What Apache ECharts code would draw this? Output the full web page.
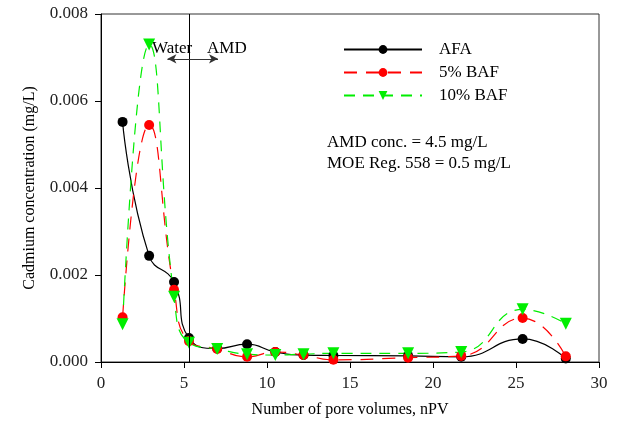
<!DOCTYPE html>
<html>
<head>
<meta charset="utf-8">
<script src="https://cdn.jsdelivr.net/npm/echarts@6/dist/echarts.min.js"></script>
<style>
  html, body { margin: 0; padding: 0; background: #fff; }
  #chart { width: 621px; height: 433px; }
</style>
</head>
<body>
<div id="chart"></div>
<script>
// pore volumes (x) shared by all three series
var poreVolumes = [1.3, 2.9, 4.4, 5.3, 7.0, 8.8, 10.5, 12.2, 14.0, 18.5, 21.7, 25.4, 28.0];

// cadmium concentration, mg/L
var afa    = [0.00552, 0.00244, 0.00184, 0.00055, 0.00031, 0.00041, 0.00023, 0.00016, 0.00015, 0.00014, 0.00012, 0.00053, 0.00008];
var baf5   = [0.00103, 0.00545, 0.00166, 0.00048, 0.00030, 0.00012, 0.00023, 0.00016, 0.00005, 0.00010, 0.00014, 0.00101, 0.00013];
var baf10  = [0.00087, 0.00730, 0.00150, 0.00044, 0.00030, 0.00018, 0.00016, 0.00018, 0.00020, 0.00020, 0.00023, 0.00121, 0.00088];

var seriesNames = ['AFA', '5% BAF', '10% BAF'];
var yTicks = [0, 0.002, 0.004, 0.006, 0.008];
var xTicks = [0, 5, 10, 15, 20, 25, 30];

// water -> AMD switch
var switchPV = 5.3;
var arrowFrom = 4.0, arrowTo = 7.05, arrowY = 0.00697;

var FONT = '"Liberation Serif", "DejaVu Serif", serif';

function pairs(xs, ys) {
	var out = [];
	for (var i = 0; i < xs.length; i++) out.push([xs[i], ys[i]]);
	return out;
}

var chart = echarts.init(document.getElementById('chart'));

var option = {
	backgroundColor: '#fff',
	animation: false,
	textStyle: { fontFamily: FONT, color: '#000' },
	grid: {
		left: 101, right: 22, top: 14, bottom: 71,
		show: true, borderColor: '#333', borderWidth: 1
	},
	legend: {
		orient: 'vertical',
		left: 338, top: 36,
		itemWidth: 78, itemHeight: 11,
		itemGap: 6,
		data: seriesNames,
		textStyle: { fontFamily: FONT, fontSize: 17, color: '#000', padding: [0, 0, 0, 12] }
	},
	xAxis: {
		type: 'value',
		min: xTicks[0], max: xTicks[xTicks.length - 1], interval: 5,
		name: 'Number of pore volumes, nPV',
		nameLocation: 'middle', nameGap: 40,
		nameTextStyle: { fontFamily: FONT, fontSize: 16, color: '#000' },
		axisLine: { lineStyle: { color: '#000', width: 1 } },
		axisTick: { show: true, length: 6, lineStyle: { color: '#000' } },
		axisLabel: { fontFamily: FONT, fontSize: 17, color: '#222', margin: 13 },
		splitLine: { show: false }
	},
	yAxis: {
		type: 'value',
		min: yTicks[0], max: yTicks[yTicks.length - 1], interval: 0.002,
		name: 'Cadmium concentration (mg/L)',
		nameLocation: 'middle', nameGap: 63,
		nameTextStyle: { fontFamily: FONT, fontSize: 16, color: '#000' },
		axisLine: { show: true, lineStyle: { color: '#000', width: 1 } },
		axisTick: { show: true, length: 6, lineStyle: { color: '#000' } },
		axisLabel: {
			fontFamily: FONT, fontSize: 17, color: '#222', margin: 13,
			formatter: function (v) { return v.toFixed(3); }
		},
		splitLine: { show: false }
	},
	series: [
		{
			name: seriesNames[0],
			type: 'line',
			data: pairs(poreVolumes, afa),
			smooth: 0.5,
			symbol: 'circle', symbolSize: 10,
			lineStyle: { color: '#000', width: 1.2 },
			itemStyle: { color: '#000' },
			markLine: {
				silent: true,
				symbol: 'none',
				label: { show: false },
				lineStyle: { color: '#000', width: 1, type: 'solid' },
				data: [{ xAxis: switchPV }]
			}
		},
		{
			name: seriesNames[1],
			type: 'line',
			data: pairs(poreVolumes, baf5),
			smooth: 0.5,
			symbol: 'circle', symbolSize: 10,
			lineStyle: { color: '#ff0000', width: 1.2, type: [13, 9] },
			itemStyle: { color: '#ff0000' },
			markLine: {
				silent: true,
				symbol: ['arrow', 'arrow'],
				symbolSize: [7, 9],
				label: { show: false },
				lineStyle: { color: '#333', width: 1, type: 'solid' },
				data: [[{ coord: [arrowFrom, arrowY] }, { coord: [arrowTo, arrowY] }]]
			}
		},
		{
			name: seriesNames[2],
			type: 'line',
			data: pairs(poreVolumes, baf10),
			smooth: 0.5,
			symbol: 'triangle', symbolRotate: 180, symbolSize: 12,
			lineStyle: { color: '#00ee00', width: 1.2, type: [11, 8] },
			itemStyle: { color: '#00ee00' }
		}
	],
	graphic: [
		{ type: 'text', left: 152, top: 40, style: { text: 'Water', fontFamily: FONT, fontSize: 17, fill: '#000' } },
		{ type: 'text', left: 207, top: 40, style: { text: 'AMD', fontFamily: FONT, fontSize: 17, fill: '#000' } },
		{ type: 'text', left: 327, top: 132, style: { text: 'AMD conc. = 4.5 mg/L\nMOE Reg. 558 = 0.5 mg/L', fontFamily: FONT, fontSize: 17, lineHeight: 21, fill: '#000' } }
	]
};

chart.setOption(option);
</script>
</body>
</html>
